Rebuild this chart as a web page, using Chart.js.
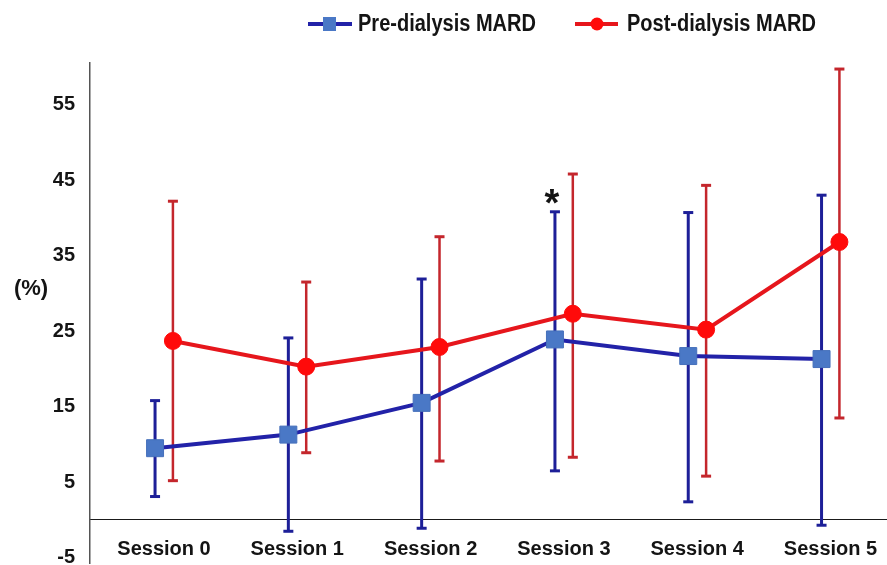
<!DOCTYPE html>
<html>
<head>
<meta charset="utf-8">
<script src="https://cdn.jsdelivr.net/npm/chart.js@4.4.1/dist/chart.umd.min.js"></script>
<style>
  html, body { margin: 0; padding: 0; background: #ffffff; }
  #wrap { width: 887px; height: 565px; position: relative; }
</style>
</head>
<body>
<div id="wrap"><canvas id="c" width="887" height="565"></canvas></div>
<script>
// ---- data ----
const categories = ['Session 0', 'Session 1', 'Session 2', 'Session 3', 'Session 4', 'Session 5'];
const preMean  = [9.5, 11.3, 15.5, 23.9, 21.7, 21.3];
const preLow   = [3.1, -1.5, -1.1, 6.5, 2.4, -0.7];
const preHigh  = [15.8, 24.1, 31.9, 40.8, 40.7, 43.0];
const postMean = [23.7, 20.3, 22.9, 27.3, 25.2, 36.8];
const postLow  = [5.2, 8.9, 7.8, 8.3, 5.8, 13.5];
const postHigh = [42.2, 31.5, 37.5, 45.8, 44.3, 59.7];
const yTicks   = [-5, 5, 15, 25, 35, 45, 55];
const seriesNames = ['Pre-dialysis MARD', 'Post-dialysis MARD'];
const significant = [false, false, false, true, false, false];

// ---- styling ----
const DODGE = 0.067;
const BLUE_LINE = '#2222a8';
const BLUE_BAR = '#1d1f98';
const BLUE_FILL = '#4a78c6';
const RED_LINE = '#e6161c';
const RED_BAR = '#c4262c';
const RED_FILL = '#ff0a0a';
const TEXT = '#141414';

function meanPoints(vals, shift) {
  return vals.map((v, i) => ({ x: i + shift, y: v }));
}
function barPoints(lo, hi, shift) {
  const pts = [];
  lo.forEach((v, i) => {
    pts.push({ x: i + shift, y: v });
    pts.push({ x: i + shift, y: hi[i] });
    pts.push({ x: i + shift, y: null });
  });
  return pts;
}

function condensedText(ctx, text, x, y, sx) {
  ctx.save();
  ctx.translate(x, y);
  ctx.scale(sx, 1);
  ctx.fillText(text, 0, 0);
  ctx.restore();
}

const extras = {
  id: 'extras',
  afterDraw(chart) {
    const ctx = chart.ctx;
    const xs = chart.scales.x, ys = chart.scales.y;
    ctx.save();
    // legend
    ctx.textBaseline = 'middle';
    ctx.textAlign = 'left';
    ctx.font = 'bold 23px "Liberation Sans", Arial, sans-serif';
    const ly = 24;
    // blue
    ctx.strokeStyle = BLUE_LINE; ctx.lineWidth = 4;
    ctx.beginPath(); ctx.moveTo(308, ly); ctx.lineTo(352, ly); ctx.stroke();
    ctx.fillStyle = BLUE_FILL;
    ctx.fillRect(323, ly - 7, 13, 14);
    ctx.fillStyle = TEXT;
    condensedText(ctx, seriesNames[0], 358, ly + 1, 0.87);
    // red
    ctx.strokeStyle = RED_LINE; ctx.lineWidth = 4;
    ctx.beginPath(); ctx.moveTo(575, ly); ctx.lineTo(618, ly); ctx.stroke();
    ctx.fillStyle = RED_FILL;
    ctx.beginPath(); ctx.arc(597, ly, 6.5, 0, Math.PI * 2); ctx.fill();
    ctx.fillStyle = TEXT;
    condensedText(ctx, seriesNames[1], 627, ly + 1, 0.87);

    // y unit label
    ctx.font = 'bold 22px "Liberation Sans", Arial, sans-serif';
    ctx.textAlign = 'center';
    ctx.fillText('(%)', 31, 289);

    // significance asterisk
    ctx.font = 'bold 38px "Liberation Sans", Arial, sans-serif';
    ctx.textBaseline = 'alphabetic';
    significant.forEach((s, i) => {
      if (!s) return;
      const px = xs.getPixelForValue(i - DODGE) - 3;
      const py = ys.getPixelForValue(preHigh[i]) + 4;
      ctx.fillText('*', px, py);
    });
    ctx.restore();
  }
};

new Chart(document.getElementById('c'), {
  type: 'line',
  data: {
    datasets: [
      {
        label: seriesNames[1],
        data: meanPoints(postMean, DODGE),
        borderColor: RED_LINE,
        borderWidth: 4,
        pointStyle: 'circle',
        pointRadius: 8.5,
        pointBackgroundColor: RED_FILL,
        pointBorderColor: RED_FILL,
        pointBorderWidth: 1,
        order: 1
      },
      {
        label: seriesNames[0],
        data: meanPoints(preMean, -DODGE),
        borderColor: BLUE_LINE,
        borderWidth: 4,
        pointStyle: 'rect',
        pointRadius: 12,
        pointBackgroundColor: BLUE_FILL,
        pointBorderColor: '#4670bb',
        pointBorderWidth: 1,
        order: 2
      },
      {
        label: 'post-err',
        data: barPoints(postLow, postHigh, DODGE),
        borderColor: RED_BAR,
        borderWidth: 2.5,
        spanGaps: false,
        pointStyle: 'line',
        pointRadius: 5,
        pointBorderColor: RED_BAR,
        pointBorderWidth: 3,
        order: 3
      },
      {
        label: 'pre-err',
        data: barPoints(preLow, preHigh, -DODGE),
        borderColor: BLUE_BAR,
        borderWidth: 3,
        spanGaps: false,
        pointStyle: 'line',
        pointRadius: 5,
        pointBorderColor: BLUE_BAR,
        pointBorderWidth: 3,
        order: 4
      }
    ]
  },
  options: {
    responsive: false,
    animation: false,
    devicePixelRatio: 1,
    layout: { autoPadding: false, padding: { top: 63, bottom: 2, left: 0, right: 0 } },
    plugins: {
      legend: { display: false },
      tooltip: { enabled: false }
    },
    elements: { line: { tension: 0 } },
    scales: {
      x: {
        type: 'linear',
        position: { y: 0 },
        min: -0.555,
        max: 5.424,
        afterBuildTicks: (s) => { s.ticks = categories.map((c, i) => ({ value: i })); },
        afterFit: (s) => { s.paddingLeft = 0; s.paddingRight = 0; },
        ticks: {
          autoSkip: false,
          maxRotation: 0,
          padding: 18,
          color: TEXT,
          font: { family: '"Liberation Sans", Arial, sans-serif', size: 20, weight: 'bold' },
          callback: (v) => categories[v]
        },
        grid: { display: false, drawTicks: false },
        border: { display: true, color: '#1a1a1a', width: 1 }
      },
      y: {
        type: 'linear',
        min: -5.7,
        max: 60.5,
        afterBuildTicks: (s) => { s.ticks = yTicks.map(v => ({ value: v })); },
        afterFit: (s) => { s.width = 90; s.paddingTop = 0; s.paddingBottom = 0; },
        ticks: {
          padding: 15,
          color: TEXT,
          font: { family: '"Liberation Sans", Arial, sans-serif', size: 20, weight: 'bold' }
        },
        grid: { display: false, drawTicks: false },
        border: { display: true, color: '#555555', width: 1.5 }
      }
    }
  },
  plugins: [extras]
});
</script>
</body>
</html>
